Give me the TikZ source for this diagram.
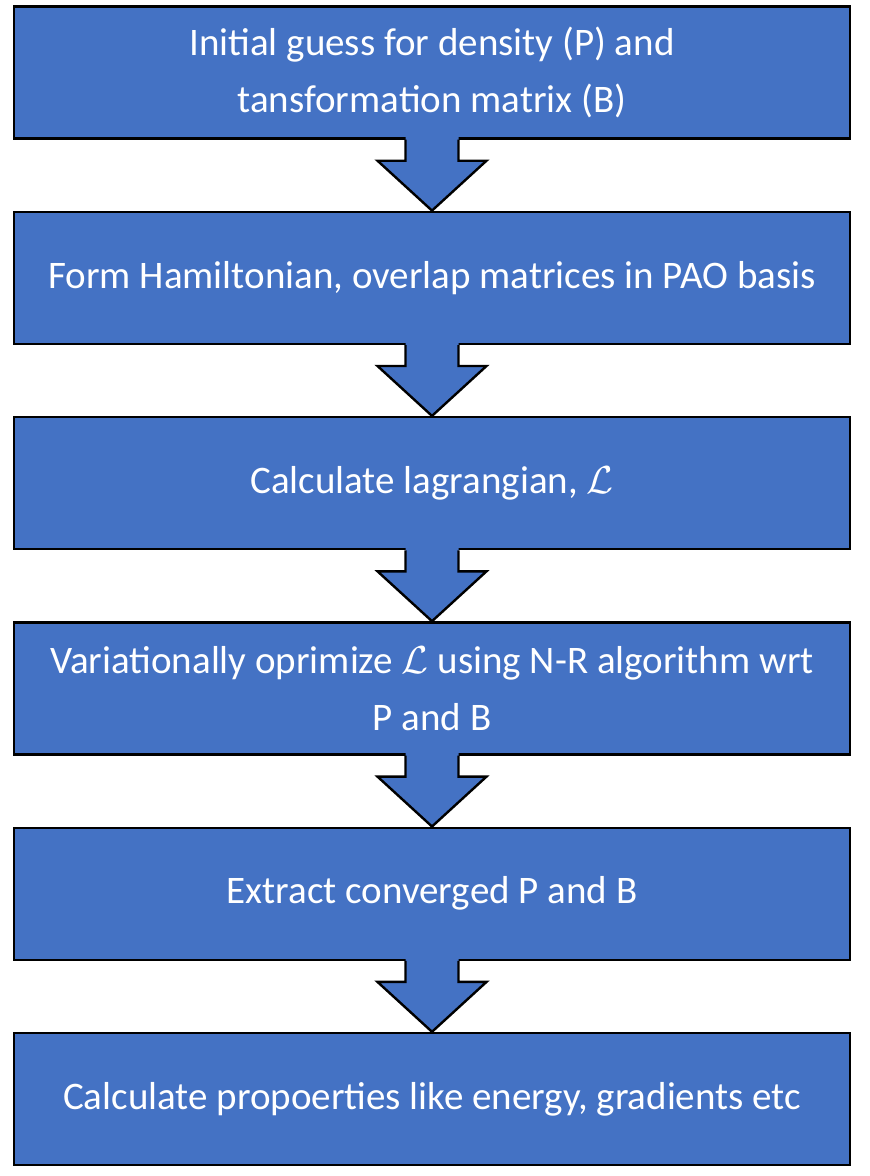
\documentclass[tikz,border=0pt]{standalone}
\usepackage{fix-cm}
\usepackage{fontspec}
\setmainfont{Carlito}
\usetikzlibrary{calc}
\definecolor{boxblue}{HTML}{4472C4}
\tikzset{
	stepbox/.style={draw=black, line width=2.4pt, fill=boxblue, text=white,
		minimum width=836pt, minimum height=132pt, align=center,
		font=\fontsize{39}{57}\selectfont},
	arrowline/.style={draw=black, line width=2.4pt, line join=miter}
}
\begin{document}
\begin{tikzpicture}[x=1pt,y=1pt]
			\def \n {6}
			\def \gap {205.3}
			\useasboundingbox (0,0) rectangle (870,-1176);
			
			\foreach \s/\txt in {1/{Initial guess for density (P) and\\tansformation matrix (B)},
				2/{Form Hamiltonian, overlap matrices in PAO basis},
				3/{Calculate lagrangian, $\mathcal{L}$},
				4/{Variationally oprimize $\mathcal{L}$ using N-R algorithm wrt\\P and B},
				5/{Extract converged P and B},
				6/{Calculate propoerties like energy, gradients etc}}
			{
				\node[stepbox] (b\s) at (432,{-72.5-\gap*(\s-1)}) {\txt};
			}
			
			% block arrows between the boxes
			\foreach \s [count=\t from 2] in {1,...,5}
			{
				\fill[boxblue] ($(b\s.south)+(-26.5,3)$) -- ($(b\s.south)+(-26.5,-21)$) -- ($(b\s.south)+(-54.5,-21)$)
					-- (b\t.north) -- ($(b\s.south)+(54.5,-21)$) -- ($(b\s.south)+(26.5,-21)$) -- ($(b\s.south)+(26.5,3)$) -- cycle;
				\path[arrowline] ($(b\s.south)+(-26.5,0)$) -- ($(b\s.south)+(-26.5,-21)$) -- ($(b\s.south)+(-54.5,-21)$)
					-- (b\t.north) -- ($(b\s.south)+(54.5,-21)$) -- ($(b\s.south)+(26.5,-21)$) -- ($(b\s.south)+(26.5,0)$);
			}
			\end{tikzpicture}
\end{document}
